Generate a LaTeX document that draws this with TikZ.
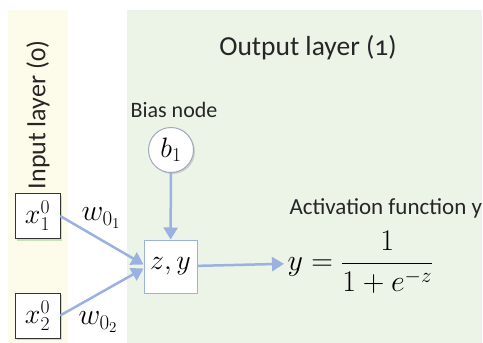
\RequirePackage{fix-cm}
\documentclass[tikz,border=0pt]{standalone}
\usepackage{amsmath}
\usepackage{fontspec}
\setmainfont{Carlito}[Numbers=OldStyle]
\usetikzlibrary{arrows.meta,positioning,shadows}
\definecolor{nnYellow}{HTML}{FDFBEA}
\definecolor{nnGreen}{HTML}{ECF3E7}
\definecolor{nnBlue}{HTML}{9BB1DF}
\definecolor{nnGrey}{HTML}{A3A9BC}

\begin{document}
\begin{tikzpicture}[x=1pt,y=-1pt,font=\fontsize{22}{26}\selectfont,
    title/.style={font=\fontsize{27.5}{31}\selectfont,text=black!85},
    mathbig/.style={font=\fontsize{28}{32}\selectfont},
    inbox/.style={mathbig,draw=black!80,fill=white,minimum size=45pt,inner sep=0pt,
                  drop shadow={shadow xshift=2pt,shadow yshift=-2pt,opacity=0.35,fill=black!50!green!60}},
    neuron/.style={mathbig,draw=nnBlue,line width=1pt,fill=white,minimum size=53pt,inner sep=0pt},
    bias/.style={mathbig,circle,draw=nnGrey,line width=1pt,fill=white,minimum size=45pt,inner sep=0pt,
                 drop shadow={shadow xshift=1.5pt,shadow yshift=-1.5pt,opacity=0.3}},
    link/.style={draw=nnBlue,line width=2.5pt,-{Triangle[length=12pt,width=14pt]}},
    wlabel/.style={font=\fontsize{30}{34}\selectfont}]
  \useasboundingbox (0,0) rectangle (483,343);
  \fill[nnYellow] (8,10) rectangle (68,343);
  \fill[nnGreen] (127,10) rectangle (482,343);
  \node[title,font=\fontsize{26}{30}\selectfont,rotate=90] (inlab) at (38,115) {Input layer (0)};
  \node[title] (outlab) at (308,48) {Output layer (1)};
  \node[text=black!85] (biaslab) at (174,110) {Bias node};
  \node[bias] (b1) at (171,150) {$b_1$};
  \node[neuron] (zy) at (170.5,266.5) {$z,y$};
  \node[inbox] (x1) at (37.5,216) {$x_1^0$};
  \node[inbox] (x2) at (37.5,315.5) {$x_2^0$};
  \node[wlabel] (w1) at (101,218) {$w_{0_1}$};
  \node[wlabel] (w2) at (98,322) {$w_{0_2}$};
  \node[text=black!85,anchor=west,font=\fontsize{23}{27}\selectfont] (act) at (286,208) {Activation function y};
  \node[anchor=west,font=\fontsize{30}{34}\selectfont] (sig) at (284,262) {$y=\dfrac{1}{1+e^{-z}}$};
  \draw[link] (b1) -- (zy);
  \draw[link] (x1.east) -- ([yshift=2pt]zy.west);
  \draw[link] (x2.east) -- ([yshift=-2pt]zy.west);
  \draw[link] (zy) -- (sig);
\end{tikzpicture}
\end{document}
